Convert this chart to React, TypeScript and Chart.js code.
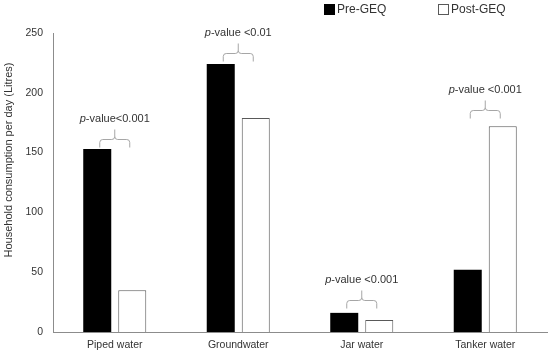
import React, { useEffect, useRef } from "react";
import { Chart, registerables } from "chart.js";

Chart.register(...registerables);

const categories = ["Piped water", "Groundwater", "Jar water", "Tanker water"];
const preGEQ = [153, 224, 16, 52];
const postGEQ = [35, 179, 10, 172];
const yTicks = [0, 50, 100, 150, 200, 250];
const pLabels = ["-value<0.001", "-value <0.01", "-value <0.001", "-value <0.001"];
const braceLevels = [161, 233, 27, 186];
const seriesNames = ["Pre-GEQ", "Post-GEQ"];
const yTitle = "Household consumption per day (Litres)";

const FONT = "'Liberation Sans', Arial, sans-serif";
const TEXT = "#333333";

const annotationPlugin = {
  id: "annotations",
  afterDatasetsDraw(chart: any) {
    const ctx = chart.ctx;
    const xs = chart.scales.x;
    const ys = chart.scales.y;
    ctx.save();
    // braces and p-value labels
    for (let i = 0; i < categories.length; i++) {
      const cx = xs.getPixelForValue(i);
      const y = Math.round(ys.getPixelForValue(braceLevels[i])) + 0.5;
      const w = 15;
      const r = 3;
      ctx.strokeStyle = "#a6a6a6";
      ctx.lineWidth = 1;
      ctx.beginPath();
      ctx.moveTo(cx - w, y + 8);
      ctx.lineTo(cx - w, y + r);
      ctx.quadraticCurveTo(cx - w, y, cx - w + r, y);
      ctx.lineTo(cx - r, y);
      ctx.quadraticCurveTo(cx, y, cx, y - r);
      ctx.lineTo(cx, y - 10);
      ctx.moveTo(cx, y - r);
      ctx.quadraticCurveTo(cx, y, cx + r, y);
      ctx.lineTo(cx + w - r, y);
      ctx.quadraticCurveTo(cx + w, y, cx + w, y + r);
      ctx.lineTo(cx + w, y + 8);
      ctx.stroke();

      const ty = y - 21;
      ctx.fillStyle = TEXT;
      ctx.textBaseline = "middle";
      ctx.textAlign = "left";
      ctx.font = `italic 11px ${FONT}`;
      const pw = ctx.measureText("p").width;
      ctx.font = `11px ${FONT}`;
      const rw = ctx.measureText(pLabels[i]).width;
      const start = cx - (pw + rw) / 2;
      ctx.font = `italic 11px ${FONT}`;
      ctx.fillText("p", start, ty);
      ctx.font = `11px ${FONT}`;
      ctx.fillText(pLabels[i], start + pw, ty);
    }

    // legend
    ctx.font = `12px ${FONT}`;
    ctx.textBaseline = "middle";
    ctx.textAlign = "left";
    ctx.fillStyle = "#000000";
    ctx.fillRect(324, 4, 11, 11);
    ctx.fillStyle = TEXT;
    ctx.fillText(seriesNames[0], 337, 10);
    ctx.fillStyle = "#ffffff";
    ctx.fillRect(438, 4, 11, 11);
    ctx.strokeStyle = "#595959";
    ctx.strokeRect(438.5, 4.5, 10, 10);
    ctx.fillStyle = TEXT;
    ctx.fillText(seriesNames[1], 451, 10);

    // y axis title
    ctx.save();
    ctx.translate(9, 160);
    ctx.rotate(-Math.PI / 2);
    ctx.textAlign = "center";
    ctx.font = `11px ${FONT}`;
    ctx.fillStyle = TEXT;
    ctx.fillText(yTitle, 0, 0);
    ctx.restore();

    ctx.restore();
  },
};

export default function App() {
  const ref = useRef<HTMLCanvasElement>(null);
  useEffect(() => {
    document.body.style.margin = "0";
    const chart = new Chart(ref.current!, {
      type: "bar",
      data: {
        labels: categories,
        datasets: [
          {
            label: seriesNames[0],
            data: preGEQ,
            backgroundColor: "#000000",
            borderColor: "#000000",
            borderWidth: 0,
            barPercentage: 0.8,
            categoryPercentage: 0.567,
          },
          {
            label: seriesNames[1],
            data: postGEQ,
            backgroundColor: "#ffffff",
            borderColor: "#595959",
            borderWidth: 1,
            barPercentage: 0.8,
            categoryPercentage: 0.567,
          },
        ],
      },
      options: {
        animation: false,
        responsive: false,
        maintainAspectRatio: false,
        layout: { padding: { top: 33, right: 3, left: 0, bottom: 0 } },
        plugins: { legend: { display: false }, tooltip: { enabled: false } },
        scales: {
          x: {
            grid: { display: false, drawTicks: false },
            border: { display: true, color: "#8c8c8c", width: 1 },
            ticks: { color: TEXT, font: { family: FONT, size: 10.5 }, padding: 7, maxRotation: 0 },
            afterFit: (s: any) => {
              s.height = 20;
            },
          },
          y: {
            min: 0,
            max: 250,
            afterBuildTicks: (s: any) => {
              s.ticks = yTicks.map((v) => ({ value: v }));
            },
            grid: { display: false, drawTicks: false },
            border: { display: true, color: "#8c8c8c", width: 1 },
            ticks: { color: TEXT, font: { family: FONT, size: 10.5 }, padding: 10 },
            afterFit: (s: any) => {
              s.width = 53;
            },
          },
        },
      },
      plugins: [annotationPlugin],
    });
    return () => chart.destroy();
  }, []);
  return (
    <div style={{ width: 550, height: 352 }}>
      <canvas ref={ref} width={550} height={352} style={{ display: "block" }} />
    </div>
  );
}
